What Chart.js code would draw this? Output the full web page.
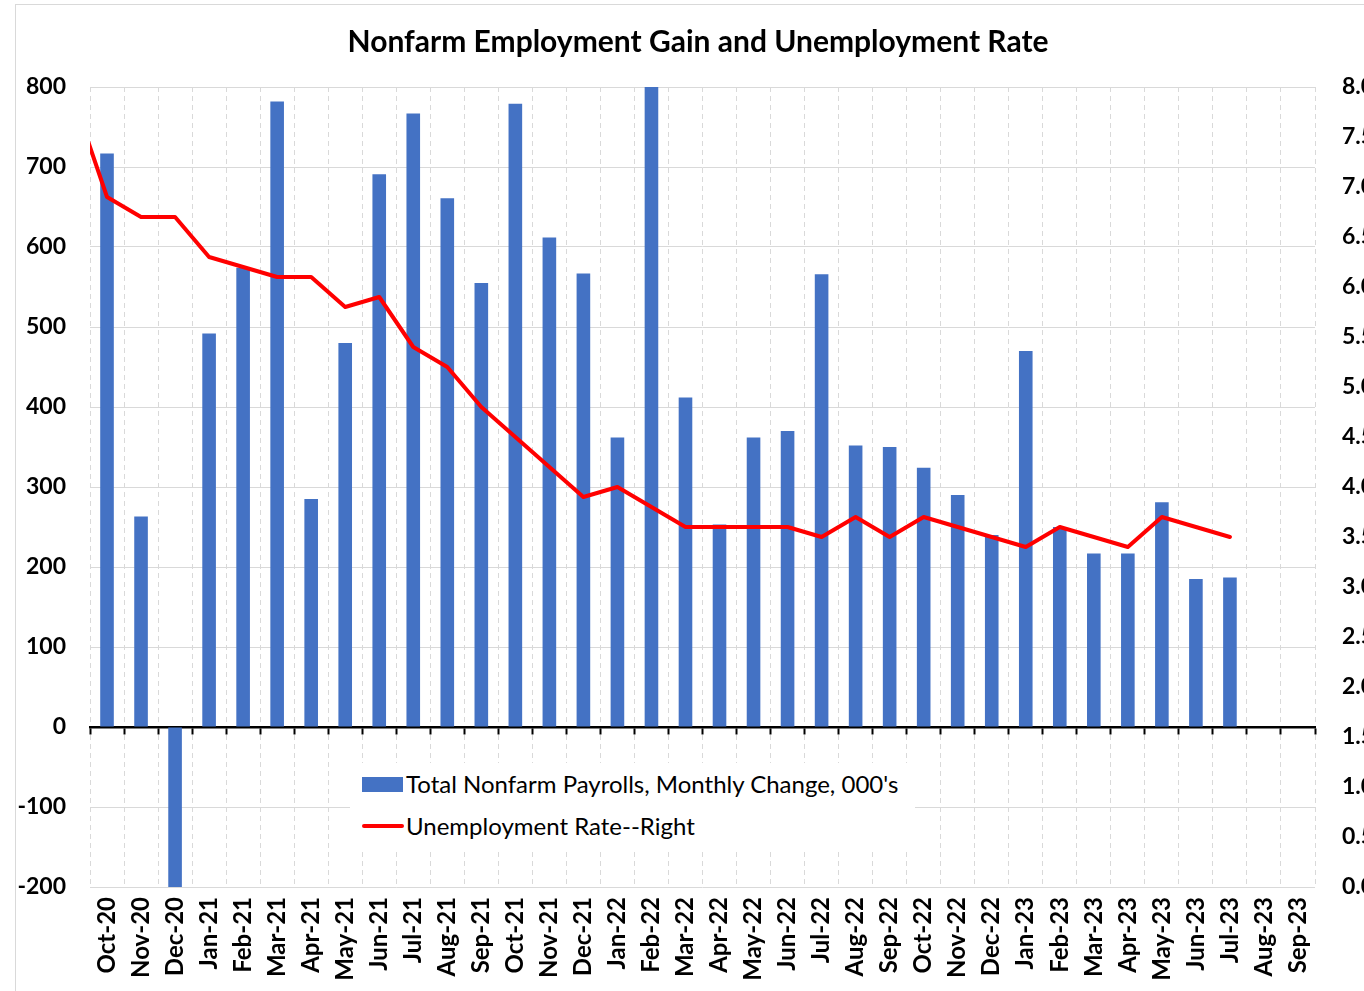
<!DOCTYPE html>
<html>
<head>
<meta charset="utf-8">
<script src="https://cdn.jsdelivr.net/npm/chart.js@4/dist/chart.umd.min.js"></script>
<style>
  html, body { margin: 0; padding: 0; background: #fff; overflow: hidden; width: 1364px; height: 991px; }
  #frame { position: absolute; left: 15px; top: 4px; width: 1364px; height: 986px; border: 1px solid #d9d9d9; }
  #wrap { position: absolute; left: 16px; top: 5px; width: 1364px; height: 986px; }
  #legend { position: absolute; left: 350px; top: 763px; width: 565px; height: 85px; background: #fff;
            font-family: Lato, "Open Sans", sans-serif; font-size: 24px; color: #000; }
  .item { position: absolute; left: 0; height: 30px; width: 565px; }
  .item .txt { position: absolute; left: 56px; top: 0; line-height: 30px; white-space: nowrap; }
  .item .sw { position: absolute; }
</style>
</head>
<body>
<div id="frame"></div>
<div id="wrap"><canvas id="c" width="1364" height="986"></canvas></div>
<div id="legend"></div>
<script>
// ---- data ----
const categories = ['Sep-20','Oct-20','Nov-20','Dec-20',
  'Jan-21','Feb-21','Mar-21','Apr-21','May-21','Jun-21','Jul-21','Aug-21','Sep-21','Oct-21','Nov-21','Dec-21',
  'Jan-22','Feb-22','Mar-22','Apr-22','May-22','Jun-22','Jul-22','Aug-22','Sep-22','Oct-22','Nov-22','Dec-22',
  'Jan-23','Feb-23','Mar-23','Apr-23','May-23','Jun-23','Jul-23','Aug-23','Sep-23'];
const payrolls = [null, 717, 263, -268,
  492, 574, 782, 285, 480, 691, 767, 661, 555, 779, 612, 567,
  362, 904, 412, 253, 362, 370, 566, 352, 350, 324, 290, 240,
  470, 250, 217, 217, 281, 185, 187, null, null];
const unemployment = [7.9, 6.9, 6.7, 6.7,
  6.3, 6.2, 6.1, 6.1, 5.8, 5.9, 5.4, 5.2, 4.8, 4.5, 4.2, 3.9,
  4.0, 3.8, 3.6, 3.6, 3.6, 3.6, 3.5, 3.7, 3.5, 3.7, 3.6, 3.5,
  3.4, 3.6, 3.5, 3.4, 3.7, 3.6, 3.5, null, null];
const firstShown = 'Oct-20';
const payrollLabel = "Total Nonfarm Payrolls, Monthly Change, 000's";
const rateLabel = 'Unemployment Rate--Right';
const titleText = 'Nonfarm Employment Gain and Unemployment Rate';

const FONT = 'Lato, "Open Sans", sans-serif';
const yTickFont = { family: FONT, size: 23, weight: 'bold' };
const xTickFont = { family: FONT, size: 24, weight: 'bold' };

const chart = new Chart(document.getElementById('c'), {
  type: 'bar',
  data: {
    labels: categories,
    datasets: [
      {
        label: payrollLabel,
        data: payrolls,
        backgroundColor: '#4472c4',
        borderWidth: 0,
        barPercentage: 0.4,
        categoryPercentage: 1.0,
        xAxisID: 'x',
        yAxisID: 'y',
        order: 2
      },
      {
        type: 'line',
        label: rateLabel,
        data: unemployment,
        borderColor: '#ff0000',
        backgroundColor: '#ff0000',
        borderWidth: 4,
        pointRadius: 0,
        tension: 0,
        borderJoinStyle: 'round',
        borderCapStyle: 'round',
        xAxisID: 'x',
        yAxisID: 'y1',
        order: 1
      }
    ]
  },
  options: {
    responsive: false,
    animation: false,
    devicePixelRatio: 1,
    layout: { padding: 0 },
    plugins: {
      legend: { display: false },
      tooltip: { enabled: false },
      title: {
        display: true,
        text: titleText,
        color: '#000',
        font: { family: FONT, size: 30, weight: 'bold', lineHeight: 1.2 },
        padding: { top: 19, bottom: 27 }
      }
    },
    scales: {
      x: {
        type: 'category',
        position: 'bottom',
        min: firstShown,
        offset: true,
        grid: { offset: true, color: '#d9d9d9', lineWidth: 1, drawTicks: false },
        border: { display: false, dash: [5, 4] },
        ticks: { color: '#000', font: xTickFont, minRotation: 90, maxRotation: 90, autoSkip: false, padding: 10 },
        afterFit: s => { s.height = 104; }
      },
      x2: {
        type: 'category',
        axis: 'x',
        position: { y: 0 },
        min: firstShown,
        offset: true,
        grid: { offset: true, drawOnChartArea: false, drawTicks: true, tickLength: 6, tickColor: '#000', tickWidth: 2 },
        border: { display: true, color: '#000', width: 2.5 },
        ticks: { display: false }
      },
      y: {
        type: 'linear',
        position: 'left',
        min: -200,
        max: 800,
        ticks: { stepSize: 100, color: '#000', font: yTickFont, padding: 24 },
        grid: { color: '#d9d9d9', lineWidth: 1, drawTicks: false },
        border: { display: false },
        afterFit: s => { s.width = 74; }
      },
      y1: {
        type: 'linear',
        position: 'right',
        min: 0,
        max: 8,
        ticks: { stepSize: 0.5, color: '#000', font: yTickFont, padding: 27, callback: v => Number(v).toFixed(1) },
        grid: { drawOnChartArea: false, drawTicks: false },
        border: { display: false },
        afterFit: s => { s.width = 65; }
      }
    }
  }
});

// HTML legend built from the chart's datasets
const legendEl = document.getElementById('legend');
chart.data.datasets.forEach((ds, i) => {
  const item = document.createElement('div');
  item.className = 'item';
  item.style.top = (i === 0 ? 6 : 48) + 'px';
  const sw = document.createElement('div');
  sw.className = 'sw';
  if (ds.type === 'line') {
    sw.style.cssText = 'left:12px;top:13px;width:42px;height:4px;border-radius:2px;background:' + ds.borderColor;
  } else {
    sw.style.cssText = 'left:12px;top:8px;width:41px;height:15px;background:' + ds.backgroundColor;
  }
  const t = document.createElement('span');
  t.className = 'txt';
  t.textContent = ds.label;
  item.appendChild(sw);
  item.appendChild(t);
  legendEl.appendChild(item);
});
</script>
</body>
</html>
